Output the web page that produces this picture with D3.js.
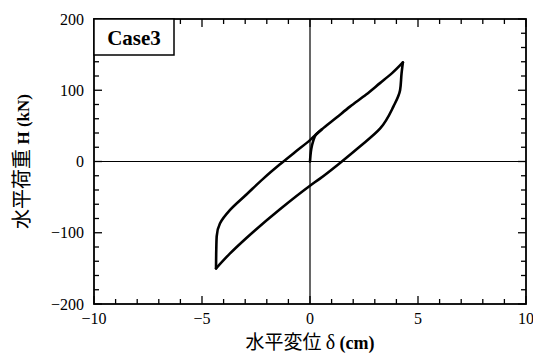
<!DOCTYPE html>
<html><head><meta charset="utf-8">
<script src="https://cdn.jsdelivr.net/npm/d3@7"></script>
<style>body{margin:0;background:#fff}svg{display:block}</style>
</head><body>
<script>
// Data (displacement cm, load kN)
const initX = [0, 0.02, 0.06, 0.14, 0.28, 0.54];
const initY = [0, 8, 18, 28, 38, 45];
const upperX = [-4.35, -4.34, -4.32, -4.17, -3.7, -2.93, -2.16, -1.39, -0.7, 0, 0.54, 1.2, 1.85, 2.6, 3.24, 3.8, 4.3];
const upperY = [-150, -125, -105, -87, -68, -46, -24, -4, 13, 30, 45, 61, 77, 94, 110, 124, 139];
const lowerX = [4.3, 4.24, 4.17, 3.86, 3.24, 2.31, 1.39, 0.46, 0, -1.39, -2.93, -3.7, -4.35];
const lowerY = [139, 124, 100, 77, 46, 21, -2, -24, -34, -67, -107, -129, -150];
const xTicks = [-10, -5, 0, 5, 10];
const yTicks = [-200, -100, 0, 100, 200];
const xLabel = ["水平変位 ", "δ", " (cm)"];
const yLabel = ["水平荷重 ", "H", " (kN)"];
const caseLabel = "Case3";

const W = 533, H = 355;
const m = {l: 94, r: 526, t: 19, b: 304};
const x = d3.scaleLinear().domain([-10, 10]).range([m.l, m.r]);
const y = d3.scaleLinear().domain([-200, 200]).range([m.b, m.t]);
const svg = d3.select("body").append("svg").attr("width", W).attr("height", H);
const serif = "'Liberation Serif', 'DejaVu Serif', serif";
const cjk = "'Noto Sans CJK JP', sans-serif";

// zero lines
svg.append("line").attr("x1", x(-10)).attr("x2", x(10)).attr("y1", y(0)).attr("y2", y(0))
  .attr("stroke", "#000").attr("stroke-width", 1.2);
svg.append("line").attr("x1", x(0)).attr("x2", x(0)).attr("y1", y(-200)).attr("y2", y(200))
  .attr("stroke", "#000").attr("stroke-width", 1.2);

// inward ticks
const tickG = svg.append("g").attr("stroke", "#000").attr("stroke-width", 1.3);
d3.range(-10, 10.01, 1).forEach(v => {
  const len = (v % 5 === 0) ? 8 : 5;
  tickG.append("line").attr("x1", x(v)).attr("x2", x(v)).attr("y1", m.b).attr("y2", m.b - len);
  tickG.append("line").attr("x1", x(v)).attr("x2", x(v)).attr("y1", m.t).attr("y2", m.t + len);
});
d3.range(-200, 200.01, 20).forEach(v => {
  const len = (v % 100 === 0) ? 8 : 5;
  tickG.append("line").attr("x1", m.l).attr("x2", m.l + len).attr("y1", y(v)).attr("y2", y(v));
  tickG.append("line").attr("x1", m.r).attr("x2", m.r - len).attr("y1", y(v)).attr("y2", y(v));
});

// frame
svg.append("rect").attr("x", m.l).attr("y", m.t).attr("width", m.r - m.l).attr("height", m.b - m.t)
  .attr("fill", "none").attr("stroke", "#000").attr("stroke-width", 1.8);

// tick labels
const fmt = v => v < 0 ? "\u2212" + Math.abs(v) : String(v);
svg.append("g").selectAll("text").data(yTicks).join("text")
  .attr("x", m.l - 10).attr("y", d => y(d)).attr("dy", "0.35em")
  .attr("text-anchor", "end").attr("font-family", serif).attr("font-size", 16)
  .text(fmt);
svg.append("g").selectAll("text").data(xTicks).join("text")
  .attr("x", d => x(d)).attr("y", 324)
  .attr("text-anchor", "middle").attr("font-family", serif).attr("font-size", 16)
  .text(fmt);

// axis titles
const xt = svg.append("text").attr("x", x(0)).attr("y", 349).attr("text-anchor", "middle");
xt.append("tspan").attr("font-family", cjk).attr("font-size", 19).text(xLabel[0]);
xt.append("tspan").attr("font-family", serif).attr("font-size", 20).text(xLabel[1]);
xt.append("tspan").attr("font-family", serif).attr("font-size", 18).attr("font-weight", "bold").text(xLabel[2]);

const yt = svg.append("text").attr("transform", `translate(29,${y(0)}) rotate(-90)`).attr("text-anchor", "middle");
yt.append("tspan").attr("font-family", cjk).attr("font-size", 20).text(yLabel[0]);
yt.append("tspan").attr("font-family", serif).attr("font-size", 17).attr("font-weight", "bold").text(yLabel[1]);
yt.append("tspan").attr("font-family", serif).attr("font-size", 17).attr("font-weight", "bold").text(yLabel[2]);

// hysteresis loop branches
const line = d3.line().x(d => x(d[0])).y(d => y(d[1])).curve(d3.curveMonotoneY);
[[initX, initY], [upperX, upperY], [lowerX, lowerY]].forEach(([bx, by]) => {
  const pts = bx.map((d, i) => [d, by[i]]).sort((a, b) => a[1] - b[1]);
  svg.append("path").datum(pts).attr("d", line)
    .attr("fill", "none").attr("stroke", "#000").attr("stroke-width", 2.6)
    .attr("stroke-linejoin", "round").attr("stroke-linecap", "round");
});

// case label box
svg.append("rect").attr("x", m.l).attr("y", m.t).attr("width", 80).attr("height", 36)
  .attr("fill", "#fff").attr("stroke", "#000").attr("stroke-width", 1.5);
svg.append("text").attr("x", m.l + 40).attr("y", m.t + 26).attr("text-anchor", "middle")
  .attr("font-family", serif).attr("font-size", 21).attr("font-weight", "bold").text(caseLabel);
</script>
</body></html>
